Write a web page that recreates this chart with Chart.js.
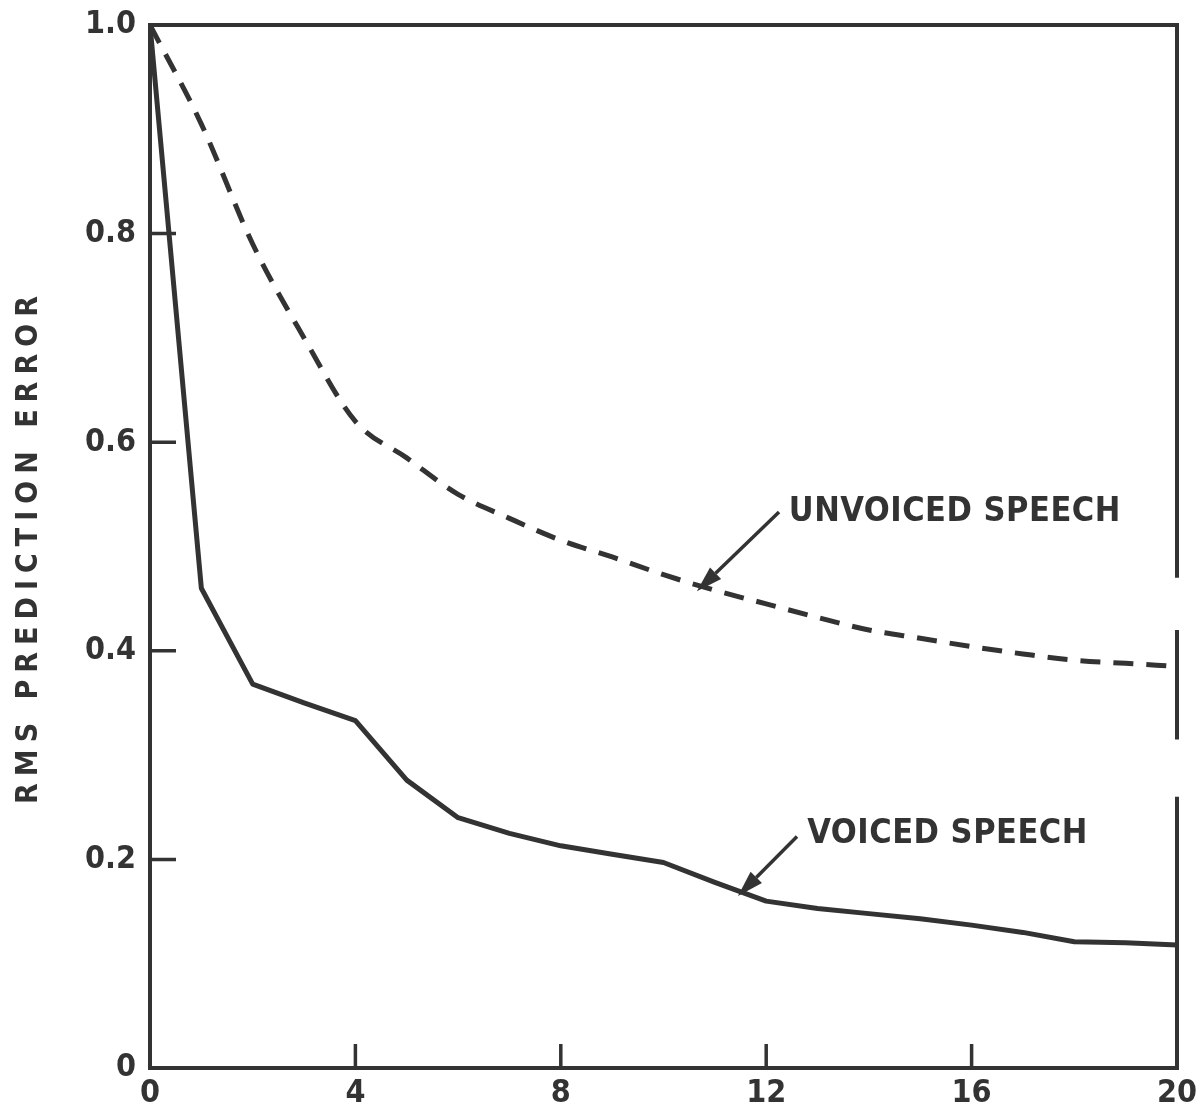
<!DOCTYPE html>
<html>
<head>
<meta charset="utf-8">
<script src="https://cdn.jsdelivr.net/npm/chart.js@4/dist/chart.umd.min.js"></script>
<style>
html,body{margin:0;padding:0;background:#fff;}
#wrap{width:1203px;height:1106px;}
</style>
</head>
<body>
<div id="wrap"><canvas id="c" width="1203" height="1106"></canvas></div>
<script>
// Predictor order p
const orders = [0,1,2,3,4,5,6,7,8,9,10,11,12,13,14,15,16,17,18,19,20];
// RMS prediction error, voiced speech (solid)
const voiced = [1.0,0.46,0.368,0.35,0.333,0.276,0.24,0.225,0.213,0.205,0.197,0.178,0.16,0.153,0.148,0.143,0.137,0.13,0.121,0.12,0.118];
// RMS prediction error, unvoiced speech (dashed)
const unvoiced = [1.0,0.905,0.79,0.70,0.62,0.585,0.55,0.527,0.506,0.49,0.473,0.458,0.445,0.432,0.42,0.412,0.404,0.397,0.391,0.388,0.385];
const xTicks = [0,4,8,12,16,20];
const yTicks = [0,0.2,0.4,0.6,0.8,1.0];
const yTitle = 'RMS PREDICTION ERROR';
const notes = [
  {text:'UNVOICED SPEECH', tx:12.44, ty:0.533, ax0:12.25, ay0:0.533, ax1:10.65, ay1:0.457},
  {text:'VOICED SPEECH', tx:12.8, ty:0.224, ax0:12.6, ay0:0.222, ax1:11.45, ay1:0.165}
];

const INK = '#333333';
const FONT = "'DejaVu Sans Condensed','DejaVu Sans',sans-serif";

const frame = {
  id:'frame',
  afterDatasetsDraw(chart){
    const {ctx, chartArea:a, scales:{x,y}} = chart;
    ctx.save();
    ctx.strokeStyle = INK; ctx.lineWidth = 4; ctx.lineCap='butt';
    ctx.beginPath();
    ctx.moveTo(a.left, a.top); ctx.lineTo(a.right, a.top);
    ctx.moveTo(a.left, a.top-2); ctx.lineTo(a.left, a.bottom+2);
    ctx.moveTo(a.left-2, a.bottom); ctx.lineTo(a.right+2, a.bottom);
    // right border with scan gaps
    ctx.moveTo(a.right, a.top-2); ctx.lineTo(a.right, y.getPixelForValue(0.47));
    ctx.moveTo(a.right, y.getPixelForValue(0.42)); ctx.lineTo(a.right, y.getPixelForValue(0.315));
    ctx.moveTo(a.right, y.getPixelForValue(0.26)); ctx.lineTo(a.right, a.bottom+2);
    ctx.stroke();
    // inward ticks
    ctx.lineWidth = 3.5;
    ctx.beginPath();
    yTicks.forEach(v=>{ if(v>0 && v<1){ const p=y.getPixelForValue(v); ctx.moveTo(a.left, p); ctx.lineTo(a.left+26, p);} });
    xTicks.forEach(v=>{ if(v>0 && v<20){ const p=x.getPixelForValue(v); ctx.moveTo(p, a.bottom); ctx.lineTo(p, a.bottom-24);} });
    ctx.stroke();
    // y title
    ctx.fillStyle = INK;
    ctx.font = "bold 30px " + FONT;
    ctx.letterSpacing = '7px';
    ctx.translate(29, (a.top+a.bottom)/2);
    ctx.rotate(-Math.PI/2);
    ctx.textAlign='center'; ctx.textBaseline='middle';
    ctx.fillText(yTitle, 0, 0);
    ctx.restore();
    // annotations
    ctx.save();
    ctx.fillStyle = INK; ctx.strokeStyle = INK;
    ctx.font = "bold 34px " + FONT;
    ctx.letterSpacing = '0.5px';
    ctx.textAlign='left'; ctx.textBaseline='middle';
    notes.forEach(n=>{
      ctx.fillText(n.text, x.getPixelForValue(n.tx), y.getPixelForValue(n.ty));
      const x0=x.getPixelForValue(n.ax0), y0=y.getPixelForValue(n.ay0);
      const x1=x.getPixelForValue(n.ax1), y1=y.getPixelForValue(n.ay1);
      const ang=Math.atan2(y1-y0, x1-x0);
      const hl=26, hw=8;
      const bx=x1-hl*Math.cos(ang), by=y1-hl*Math.sin(ang);
      ctx.lineWidth=3.5;
      ctx.beginPath(); ctx.moveTo(x0,y0); ctx.lineTo(bx,by); ctx.stroke();
      ctx.beginPath();
      ctx.moveTo(x1,y1);
      ctx.lineTo(bx+hw*Math.sin(ang), by-hw*Math.cos(ang));
      ctx.lineTo(bx-hw*Math.sin(ang), by+hw*Math.cos(ang));
      ctx.closePath(); ctx.fill();
    });
    ctx.restore();
  }
};

new Chart(document.getElementById('c'), {
  type:'line',
  data:{
    datasets:[
      {label:'VOICED SPEECH', data:orders.map((o,i)=>({x:o,y:voiced[i]})),
       borderColor:INK, borderWidth:5, pointRadius:0, tension:0, borderJoinStyle:'round', fill:false},
      {label:'UNVOICED SPEECH', data:orders.map((o,i)=>({x:o,y:unvoiced[i]})),
       borderColor:INK, borderWidth:5, borderDash:[20,13], pointRadius:0, tension:0.3, cubicInterpolationMode:'monotone', fill:false}
    ]
  },
  options:{
    responsive:false, animation:false, devicePixelRatio:1,
    layout:{padding:{left:0,top:25,right:26,bottom:0}},
    plugins:{legend:{display:false}, tooltip:{enabled:false}},
    scales:{
      x:{type:'linear', min:0, max:20,
         afterBuildTicks(s){ s.ticks = xTicks.map(v=>({value:v})); },
         afterFit(s){ s.height = 38; s.paddingLeft = 0; s.paddingRight = 0; },
         grid:{display:false, drawTicks:false}, border:{display:false},
         ticks:{color:INK, padding:6, font:{family:FONT, size:32, weight:'bold'}, callback:v=>String(v), maxRotation:0, autoSkip:false}},
      y:{type:'linear', min:0, max:1,
         afterBuildTicks(s){ s.ticks = yTicks.map(v=>({value:v})); },
         afterFit(s){ s.width = 150; s.paddingTop = 0; s.paddingBottom = 0; },
         grid:{display:false, drawTicks:false}, border:{display:false},
         ticks:{color:INK, padding:14, font:{family:FONT, size:32, weight:'bold'}, callback:v=>v===0?'0':v.toFixed(1), autoSkip:false}}
    }
  },
  plugins:[frame]
});
</script>
</body>
</html>
